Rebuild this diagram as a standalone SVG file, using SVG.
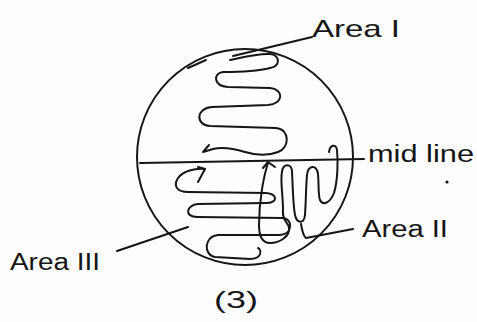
<svg xmlns="http://www.w3.org/2000/svg" width="477" height="322" viewBox="0 0 477 322">
<style>
.ink{fill:none;stroke:#151515;stroke-width:2;stroke-linecap:round;stroke-linejoin:round}
.lbl{font-family:"Liberation Sans","DejaVu Sans",sans-serif;fill:#151515}
</style>
<rect width="477" height="322" fill="#fdfdfd"/>
<g id="cell">
<circle class="ink" cx="245" cy="157" r="108"/>
<path class="ink" d="M188,68 L206,60"/>
</g>
<g id="midline">
<path class="ink" d="M140,163 L364,159"/>
</g>
<g id="area1-coil">
<path class="ink" d="M230,60 C240,58 258,53 270,54 C280,55 281,66 270,68 C258,71 235,72 223,72 C213,73 213,86 228,87 L270,88 C284,89 284,104 268,105 L212,107 C196,108 195,125 210,126 L276,128 C290,129 290,148 278,152 C268,156 255,155 245,152 C235,149 222,147 213,149 L203,152 L209,145"/>
</g>
<g id="area3-coil">
<path class="ink" d="M205,169 C195,168 183,171 178,178 C173,186 177,192 188,192 L266,193 C278,194 278,203 266,203 L198,204 C186,205 184,217 197,217 L283,218 C293,219 293,234 280,235 L218,235 C204,236 203,255 215,257 L250,259 C262,259 262,250 258,248"/>
<path class="ink" d="M198,167 L205,169 L198,182"/>
</g>
<g id="area2-coil">
<path class="ink" d="M268,163 C264,175 259,200 259,225 C259,238 263,243 270,243 C280,243 290,236 289,228 C288,221 282,222 283,210 C283,195 280,180 282,172 C283,163 292,163 292,172 C293,190 293,205 295,215 C297,224 304,224 305,215 C306,200 306,185 307,175 C308,165 317,164 318,174 C319,185 318,195 320,200 C323,206 330,203 334,193 C338,180 338,160 337,150 C336,143 330,145 329,152"/>
<path class="ink" d="M263,168 L268,162 L275,167"/>
</g>
<g id="connectors">
<path class="ink" d="M233,56 L312,37"/>
<path class="ink" d="M188,227 L117,251"/>
<path class="ink" d="M301,224 C302,230 303,236 306,238 L353,229"/>
</g>
<g id="label-area1"><text class="lbl" x="312" y="37" font-size="24" textLength="88" lengthAdjust="spacingAndGlyphs">Area I</text></g>
<g id="label-midline"><text class="lbl" x="368" y="162" font-size="23" textLength="106" lengthAdjust="spacingAndGlyphs">mid line</text></g>
<g id="label-area2"><text class="lbl" x="362" y="237" font-size="23" textLength="86" lengthAdjust="spacingAndGlyphs">Area II</text></g>
<g id="label-area3"><text class="lbl" x="10" y="270" font-size="23" textLength="90" lengthAdjust="spacingAndGlyphs">Area III</text></g>
<g id="caption"><text class="lbl" x="214" y="308" font-size="24" textLength="44" lengthAdjust="spacingAndGlyphs">(3)</text></g>
<circle cx="447" cy="182" r="1.6" fill="#151515"/>
</svg>
